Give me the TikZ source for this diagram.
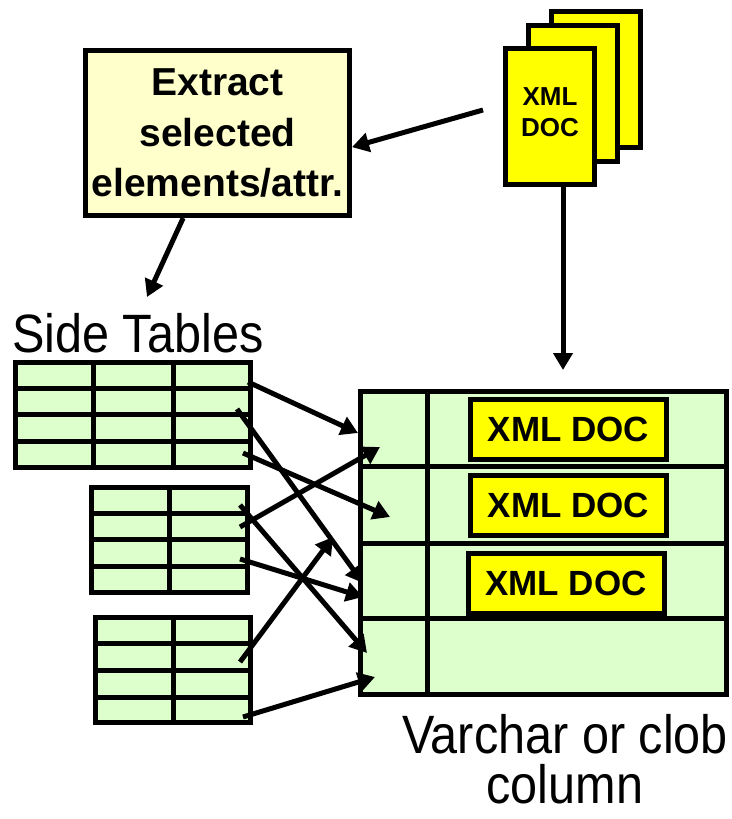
\documentclass[tikz,border=0pt]{standalone}
\usepackage{fontspec}
\setmainfont{Liberation Sans}
\usepackage{tikz}
\usetikzlibrary{positioning,arrows.meta}
\definecolor{tblgreen}{RGB}{221,255,204}
\definecolor{boxyellow}{RGB}{255,255,204}
\definecolor{docyellow}{RGB}{255,255,0}

\begin{document}
\begin{tikzpicture}[x=1pt, y=-1pt]
    \tikzstyle{extract} = [rectangle, draw, fill=boxyellow, line width=5pt,
        minimum width=264pt, minimum height=165pt, inner sep=0pt, align=center,
        font=\bfseries\fontsize{39}{50.5}\selectfont]
    \tikzstyle{page} = [rectangle, draw, fill=docyellow, line width=5pt,
        minimum width=89pt, minimum height=136pt, inner sep=0pt, align=center,
        font=\bfseries\fontsize{26}{31}\selectfont]
    \tikzstyle{tbl} = [rectangle, draw, fill=tblgreen, line width=5pt, inner sep=0pt]
    \tikzstyle{rule} = [line width=5pt]
    \tikzstyle{xmlbox} = [rectangle, draw, fill=docyellow, line width=5pt,
        minimum width=196pt, minimum height=60pt, inner sep=0pt,
        font=\bfseries\fontsize{35}{40}\selectfont]
    \tikzstyle{caption} = [inner sep=0pt, align=center, xscale=0.9, transform shape,
        font=\fontsize{54}{50}\selectfont]
    \tikzstyle{arrow} = [line width=5pt, -{Triangle[length=17pt,width=19pt]}]

    \useasboundingbox (0,0) rectangle (731,819);

    \node [extract] (extract) at (217.5,133) {Extract\\selected\\elements/attr.};

    \node [page] (doc3) at (596,79.5) {};
    \node [page] (doc2) at (572.5,93) {};
    \node [page, text depth=8pt] (doc1) at (550,116) {XML\\DOC};

    \node [caption, anchor=base west] (sidetitle) at (12,352) {Side Tables};

    \node [tbl, minimum width=235pt, minimum height=105pt] (st1) at (133,415) {};
    \foreach \y in {388,414,441} \draw [rule] (15,\y) -- (251,\y);
    \foreach \x in {93,173} \draw [rule] (\x,362) -- (\x,468);

    \node [tbl, minimum width=156pt, minimum height=105pt] (st2) at (169.5,540) {};
    \foreach \y in {513,539,566} \draw [rule] (91,\y) -- (248,\y);
    \draw [rule] (169,487) -- (169,593);

    \node [tbl, minimum width=155pt, minimum height=105pt] (st3) at (173,670) {};
    \foreach \y in {643,670,697} \draw [rule] (95,\y) -- (251,\y);
    \draw [rule] (173,617) -- (173,723);

    \node [tbl, minimum width=366pt, minimum height=303pt] (col) at (543.5,543) {};
    \foreach \y in {466,543,618} \draw [rule] (360,\y) -- (727,\y);
    \draw [rule] (427,391) -- (427,695);

    \node [xmlbox] (xml1) at (568.5,429.5) {XML DOC};
    \node [xmlbox] (xml2) at (568.5,505.5) {XML DOC};
    \node [xmlbox] (xml3) at (566,583) {XML DOC};

    \node [caption] (coltitle) at (565,759) {Varchar or clob\\column};

    \coordinate (docin) at (563,370);
    \coordinate (docout) at (483,110);
    \coordinate (stin) at (147,297);
    \draw [arrow] (docout) -- (extract.-6);
    \draw [arrow] (doc1.south -| docin) -- (docin);
    \draw [arrow] (extract.-112) -- (stin);

    \coordinate (s1) at (248,382);
    \coordinate (s2) at (237,409);
    \coordinate (s3) at (243,453);
    \coordinate (s4) at (240,505);
    \coordinate (s5) at (240,527);
    \coordinate (s6) at (240,559);
    \coordinate (s7) at (240,662);
    \coordinate (s8) at (243,717);
    \coordinate (e1) at (358,433);
    \coordinate (e2) at (363,583);
    \coordinate (e3) at (390,517);
    \coordinate (e4) at (380,447);
    \coordinate (e5) at (367,653);
    \coordinate (e6) at (363,597);
    \coordinate (e7) at (333,537);
    \coordinate (e8) at (375,677);

    \draw [arrow] (s1) -- (e1);
    \draw [arrow] (s2) -- (e2);
    \draw [arrow] (s3) -- (e3);
    \draw [arrow] (s5) -- (e4);
    \draw [arrow] (s4) -- (e5);
    \draw [arrow] (s6) -- (e6);
    \draw [arrow] (s7) -- (e7);
    \draw [arrow] (s8) -- (e8);
\end{tikzpicture}
\end{document}
